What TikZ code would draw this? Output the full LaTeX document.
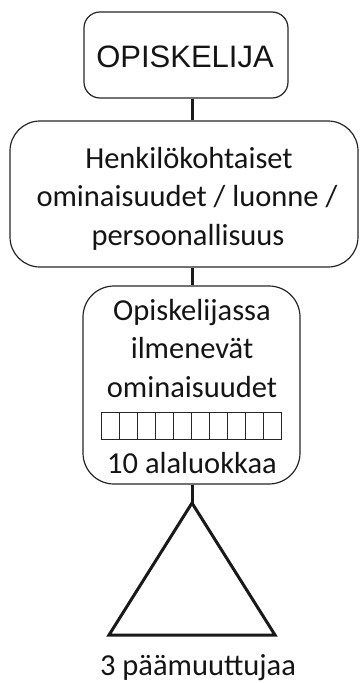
\documentclass[tikz,border=0pt]{standalone}
\usepackage{fontspec}
\setmainfont{Carlito}
\newfontfamily\arialfont{Liberation Sans}
\begin{document}
\begin{tikzpicture}[x=1pt,y=1pt,
  boxline/.style={draw=black!85, line width=1.2pt},
  conn/.style={draw=black!90, line width=3pt},
  txt/.style={text=black!92, inner sep=0pt, anchor=base, font=\fontsize{30.5}{36}\selectfont},
  cell/.style={draw=black!85, line width=0.8pt, minimum width=18pt, minimum height=27pt, inner sep=0pt, anchor=north west}]
\useasboundingbox (0,0) rectangle (361,-683);
% box 1
\node[boxline, rounded corners=16pt, minimum width=204pt, minimum height=86pt, inner sep=0pt]
  (b1) at (186,-55) {};
\node[txt, font=\arialfont\fontsize{31}{36}\selectfont] (t1) at (185,-67) {OPISKELIJA};
% box 2
\node[boxline, rounded corners=30pt, minimum width=348pt, minimum height=146pt, inner sep=0pt]
  (b2) at (184,-194) {};
\node[txt] (t2a) at (189,-168) {Henkilökohtaiset};
\node[txt] (t2b) at (187,-206) {ominaisuudet / luonne /};
\node[txt] (t2c) at (188,-245) {persoonallisuus};
% box 3
\node[boxline, rounded corners=31pt, minimum width=217pt, minimum height=198pt, inner sep=0pt]
  (b3) at (191.5,-385) {};
\node[txt] (t3a) at (192,-320) {Opiskelijassa};
\node[txt] (t3b) at (192,-358) {ilmenevät};
\node[txt] (t3c) at (192,-397) {ominaisuudet};
\foreach \i in {0,...,9} {
  \node[cell] (c\i) at (101+18*\i,-412) {};
}
\node[txt] (t3d) at (192,-473) {10 alaluokkaa};
% triangle
\coordinate (apex) at (192,-503);
\coordinate (bl) at (109,-635);
\coordinate (br) at (275,-635);
\draw[conn, line join=miter] (apex) -- (bl) -- (br) -- cycle;
\node[txt] (t4) at (198,-675) {3 päämuuttujaa};
% connectors
\draw[conn] (b1.south -| apex) -- (b2.north -| apex);
\draw[conn] (b2.south -| apex) -- (b3.north -| apex);
\draw[conn] (b3.south -| apex) -- (apex);
\end{tikzpicture}
\end{document}
